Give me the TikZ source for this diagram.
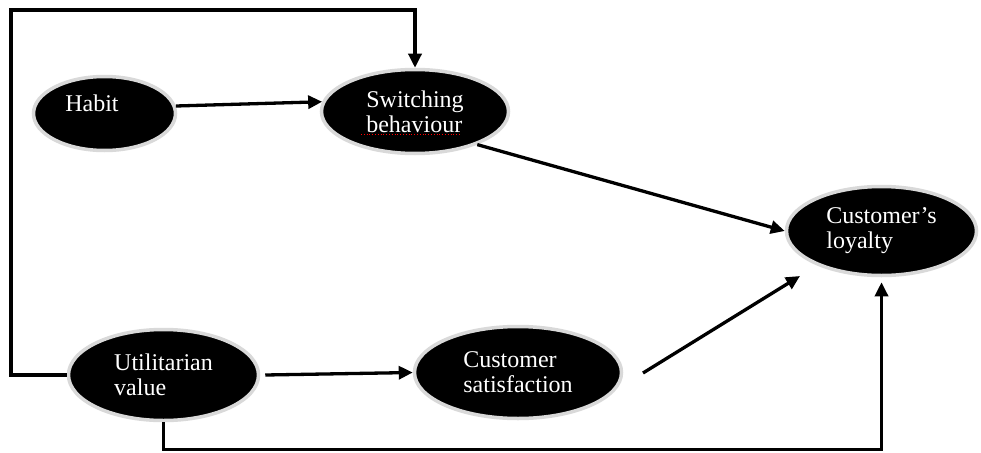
\documentclass[tikz,border=0pt]{standalone}
\usepackage{fontspec}
\setmainfont{Liberation Serif}
\usetikzlibrary{arrows.meta,shapes.geometric,calc}
\begin{document}
\begin{tikzpicture}[x=1pt,y=-1pt,
  blob/.style={ellipse, fill=black, draw=black!15, line width=3.5pt, inner sep=0pt,
    text=white, align=left, font=\fontsize{24}{25}\selectfont},
  lbl/.style={text=white, inner sep=0pt, font=\fontsize{24}{25}\selectfont},
  arr/.style={line width=3.3pt, -{Triangle[length=14pt,width=13pt]}},
  ln/.style={line width=3.3pt}]
\useasboundingbox (0,0) rectangle (981,452);
\fill[white] (0,0) rectangle (981,452);
% nodes
\node[blob, minimum width=142, minimum height=74] (habit) at (104.5,113.5) {};
\node[lbl] (habittxt) at (92,103) {Habit};
\node[blob, minimum width=187, minimum height=84] (sw) at (415,111.5) {Switching\\behaviour};
\node[blob, minimum width=190, minimum height=89] (loy) at (881.5,231) {Customer’s\\loyalty};
\node[blob, minimum width=190, minimum height=91] (util) at (163.5,375) {Utilitarian\\value};
\node[blob, minimum width=207, minimum height=92] (sat) at (518,372.5) {Customer\\satisfaction};
% spell-check underline
\draw[red, dotted, line width=0.8pt] ($(sw.center)+(-54,23)$) -- ++(99,0);
% helper coordinates
\coordinate (tl) at (11,10);
\coordinate (s1) at (643,373);
\coordinate (s2) at (800,276);
% connectors
\draw[arr] (habit.6) -- (sw.174);
\draw[arr] (util.west) -| (tl) -| (sw.north);
\draw[arr] (sw.-28) -- (loy.west);
\draw[arr] (util.east) ++(5,0) -- (sat.west);
\draw[arr] (s1) -- (s2);
\draw[arr, shorten >=5pt] (util.south) -- ++(0,27) -| (loy.south);
\end{tikzpicture}
\end{document}
